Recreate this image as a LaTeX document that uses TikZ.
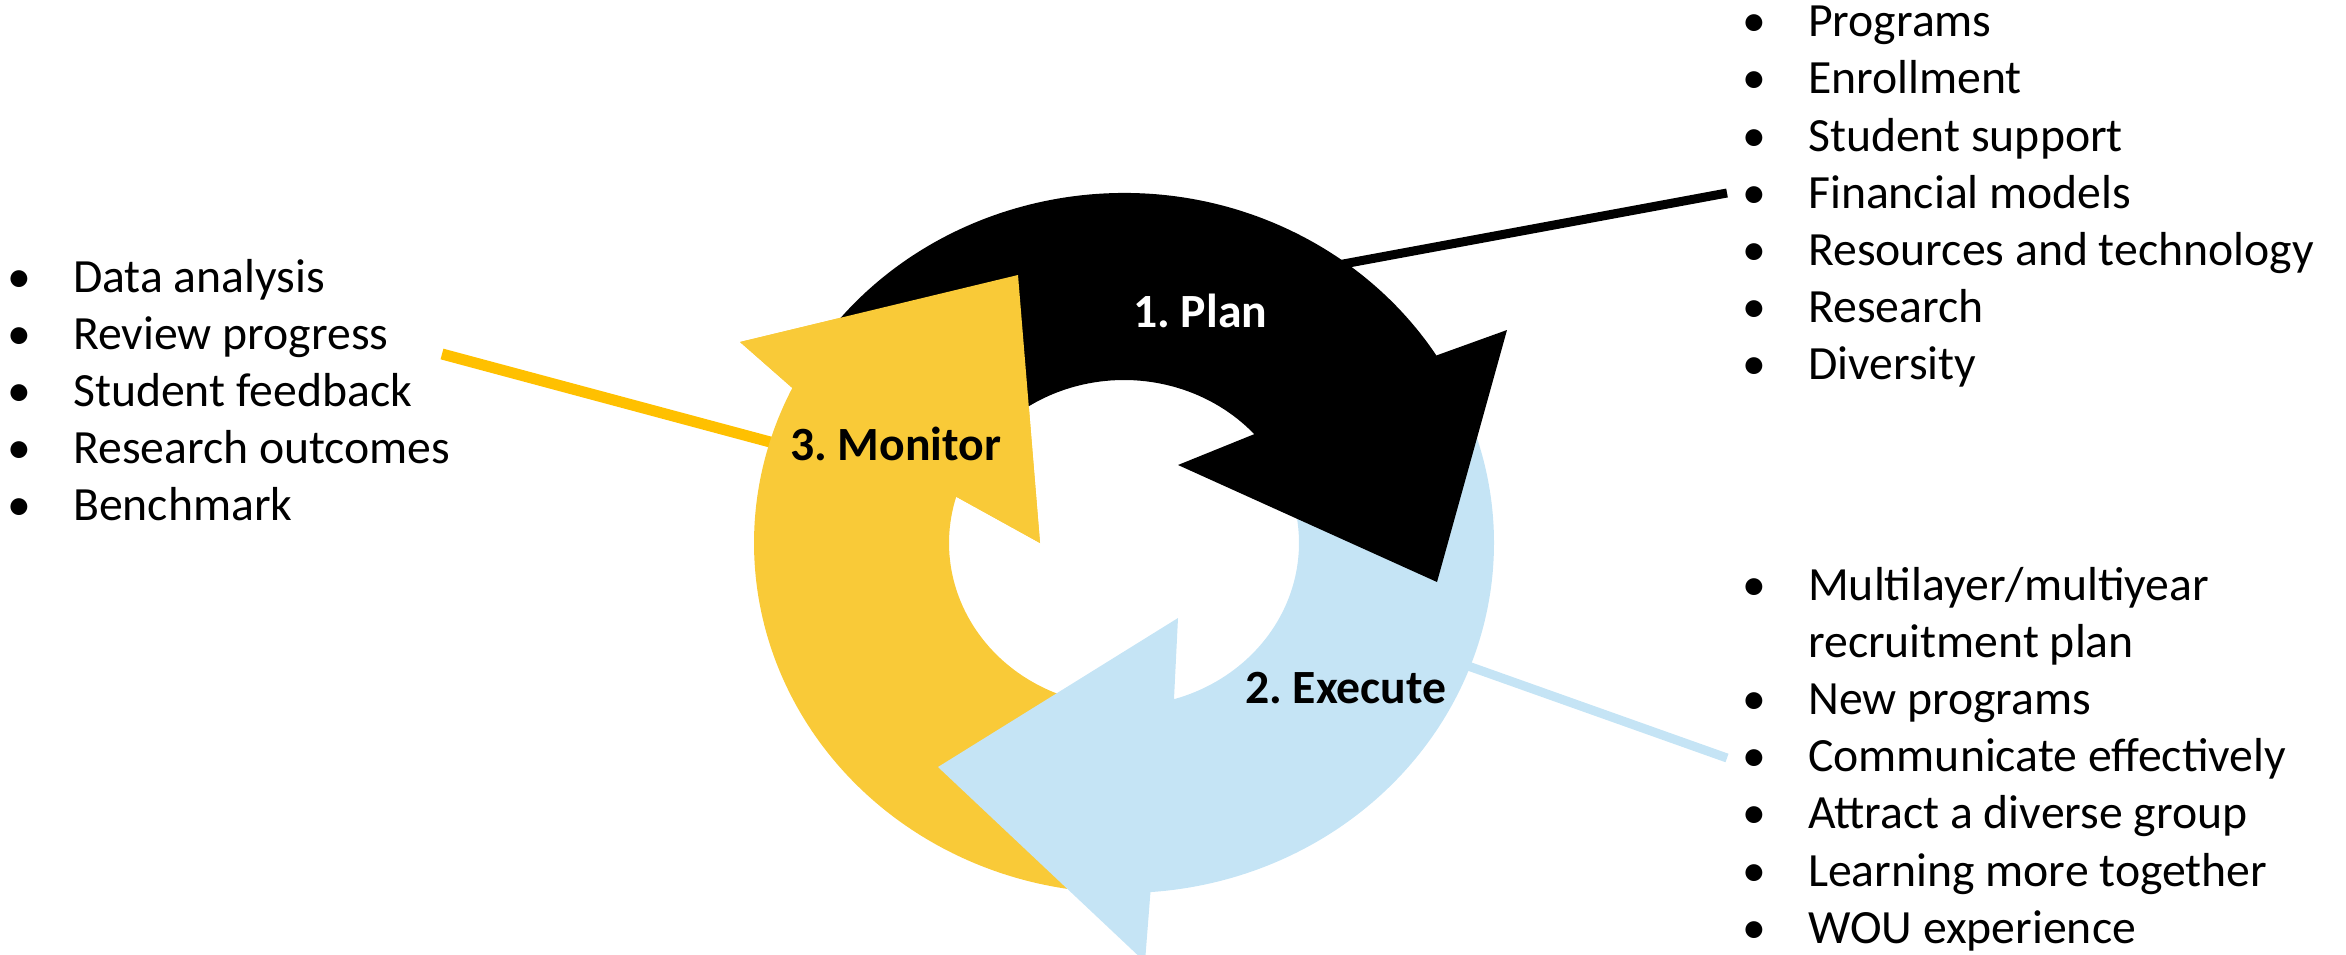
\documentclass[tikz,border=0pt]{standalone}
\usepackage{fontspec}
\setmainfont{Carlito}
\usetikzlibrary{calc}
\definecolor{ygold}{RGB}{249,202,56}
\definecolor{yline}{RGB}{255,192,0}
\definecolor{lblue}{RGB}{197,228,245}
\newcommand\lfont{\fontsize{47.7pt}{57.2pt}\selectfont}
\newcommand\bfnt{\fontsize{47.7pt}{57.2pt}\selectfont\bfseries}
\newcommand\bul{\makebox[66pt][l]{•}}
\frenchspacing
\begin{document}
\begin{tikzpicture}[x=1pt,y=-1pt,
  item/.style={anchor=base west,inner sep=0pt,font=\lfont},
  lab/.style={anchor=base west,inner sep=0pt,font=\bfnt},
  conn/.style={line width=9pt}]
\useasboundingbox (0,0) rectangle (2346,955);
\coordinate (c) at (1124,543);
% connectors (behind the arrows)
\coordinate (ys) at (442,354);
\coordinate (ye) at (800,450);
\coordinate (ks) at (1300,272);
\coordinate (ke) at (1727,193);
\coordinate (bs) at (1440,656);
\coordinate (be) at (1727,758);
\draw[yline, line width=11pt] (ys) -- (ye);
\draw[black, conn] (ks) -- (ke);
\draw[lblue, conn] (bs) -- (be);
% yellow arrow (Monitor)
\fill[ygold] ($(c)+(95:370 and 350)$) arc[start angle=95,end angle=206.3,x radius=370,y radius=350]
  -- (740,342) -- (1018,275) -- (1040,543) -- ($(c)+(196.5:175 and 163)$)
  arc[start angle=196.5,end angle=95,x radius=175,y radius=163] -- cycle;
% blue arrow (Execute)
\fill[lblue] ($(c)+(-20:370 and 350)$) arc[start angle=-20,end angle=85.9,x radius=370,y radius=350]
  -- (1145,962) -- (938,767) -- (1178,618) -- ($(c)+(73.4:175 and 163)$)
  arc[start angle=73.4,end angle=-20,x radius=175,y radius=163] -- cycle;
% black arrow (Plan)
\fill[black] ($(c)+(-150:370 and 350)$) arc[start angle=-150,end angle=-32.4,x radius=370,y radius=350]
  -- (1507,330) -- (1437,582) -- (1178,465) -- ($(c)+(-41.9:175 and 163)$)
  arc[start angle=-41.9,end angle=-150,x radius=175,y radius=163] -- cycle;
% yellow head again, over the black tail
\fill[ygold] (740,342) -- (1018,275) -- (1040,543) -- ($(c)+(196.5:175 and 163)$)
  -- ($(c)+(206.3:370 and 350)$) -- cycle;
% labels
\node[lab, text=white] (plan) at (1133,327) {1. Plan};
\node[lab] (monitor) at (790,460) {3. Monitor};
\node[lab] (execute) at (1245,703) {2. Execute};
% left list
\node[item] (m1) at (7,292) {\bul Data analysis};
\node[item] (m2) at (7,349) {\bul Review progress};
\node[item] (m3) at (7,406) {\bul Student feedback};
\node[item] (m4) at (7,463) {\bul Research outcomes};
\node[item] (m5) at (7,520) {\bul Benchmark};
% top right list
\node[item] (p1) at (1742,36.7) {\bul Programs};
\node[item] (p2) at (1742,93.9) {\bul Enrollment};
\node[item] (p3) at (1742,151.1) {\bul Student support};
\node[item] (p4) at (1742,208.3) {\bul Financial models};
\node[item] (p5) at (1742,265.5) {\bul Resources and technology};
\node[item] (p6) at (1742,322.7) {\bul Research};
\node[item] (p7) at (1742,379.9) {\bul Diversity};
% bottom right list
\node[item] (e1) at (1742,600) {\bul Multilayer/multiyear};
\node[item] (e2) at (1742,657.2) {\hspace*{66pt}recruitment plan};
\node[item] (e3) at (1742,714.4) {\bul New programs};
\node[item] (e4) at (1742,771.6) {\bul Communicate effectively};
\node[item] (e5) at (1742,828.8) {\bul Attract a diverse group};
\node[item] (e6) at (1742,886) {\bul Learning more together};
\node[item] (e7) at (1742,943.2) {\bul WOU experience};
\end{tikzpicture}
\end{document}
